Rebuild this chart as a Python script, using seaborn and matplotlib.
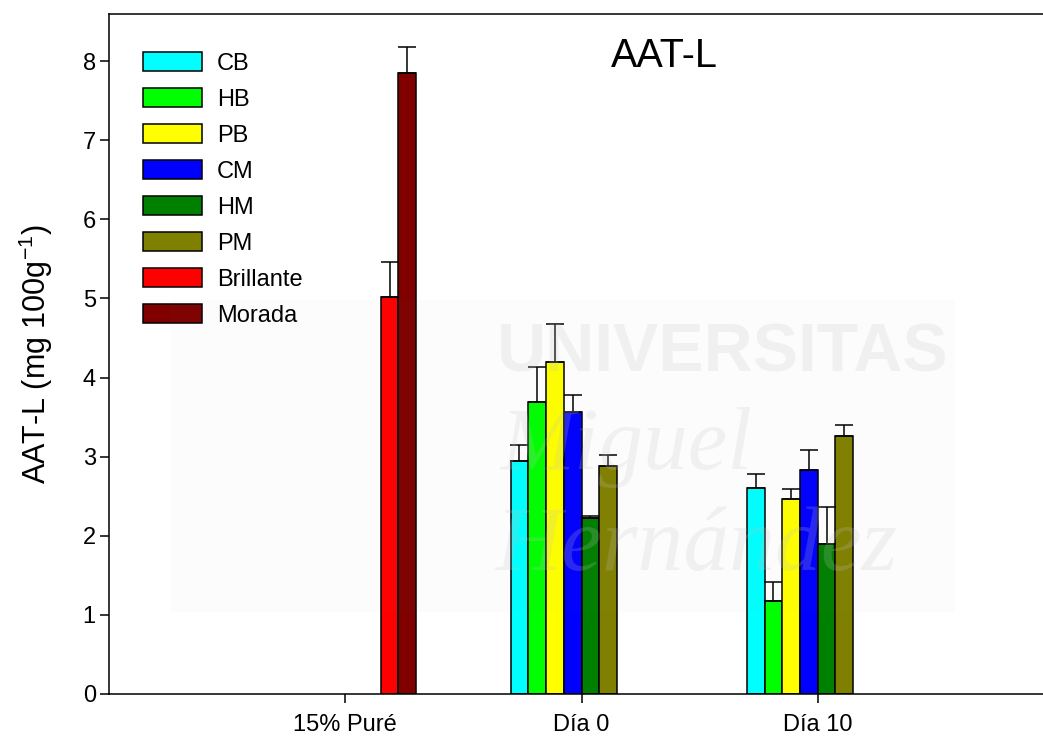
import numpy as np
import pandas as pd
import matplotlib
matplotlib.use("Agg")
import matplotlib.pyplot as plt
from matplotlib.patches import Patch, Rectangle
import seaborn as sns

# Groups on the x axis and the series drawn in each
groups = ["15% Puré", "Día 0", "Día 10"]
series = ["CB", "HB", "PB", "CM", "HM", "PM", "Brillante", "Morada"]
colors = ["#00FFFF", "#00FF00", "#FFFF00", "#0000FF", "#008000", "#808000", "#FF0000", "#800000"]

# Mean values (mg 100 g-1) and upper error per series
pure_series = ["Brillante", "Morada"]
pure_mean = [5.02, 7.85]
pure_err = [0.44, 0.33]

dia_series = ["CB", "HB", "PB", "CM", "HM", "PM"]
dia0_mean = [2.95, 3.69, 4.20, 3.57, 2.23, 2.88]
dia0_err = [0.20, 0.44, 0.47, 0.21, 0.02, 0.14]
dia10_mean = [2.60, 1.18, 2.47, 2.83, 1.89, 3.26]
dia10_err = [0.18, 0.24, 0.12, 0.26, 0.47, 0.14]

rows = []
for s, m, e in zip(pure_series, pure_mean, pure_err):
    rows.append((groups[0], s, m, e))
for s, m, e in zip(dia_series, dia0_mean, dia0_err):
    rows.append((groups[1], s, m, e))
for s, m, e in zip(dia_series, dia10_mean, dia10_err):
    rows.append((groups[2], s, m, e))
df = pd.DataFrame(rows, columns=["grupo", "serie", "valor", "error"])

sns.set_style("white")
plt.rcParams["font.family"] = ["Liberation Sans", "DejaVu Sans"]
plt.rcParams.update({"text.color": "black", "axes.labelcolor": "black",
                     "xtick.color": "black", "ytick.color": "black"})

fig = plt.figure(figsize=(10.43, 7.42), dpi=100)
W, H = 1043, 742
left_px, right_px, top_px, bottom_px = 109, 1054, 14, 694
ax = fig.add_axes([left_px / W, (H - bottom_px) / H,
                   (right_px - left_px) / W, (bottom_px - top_px) / H])

sns.barplot(data=df, x="grupo", y="valor", hue="serie",
            order=groups, hue_order=series, palette=colors,
            width=0.6, dodge=True, gap=0, errorbar=None,
            edgecolor="black", linewidth=1.1, saturation=1,
            legend=False, ax=ax)

# Upper error bars placed on each drawn bar
vals = df["valor"].to_numpy()
errs = df["error"].to_numpy()
xs, ys, es = [], [], []
for p in ax.patches:
    h = p.get_height()
    if not np.isfinite(h) or h <= 0:
        continue
    i = int(np.argmin(np.abs(vals - h)))
    xs.append(p.get_x() + p.get_width() / 2)
    ys.append(h)
    es.append(errs[i])
es = np.array(es)
ax.errorbar(xs, ys, yerr=[np.zeros_like(es), es], fmt="none",
            ecolor="black", elinewidth=1.1, capsize=6.3, capthick=1.1, zorder=1)

ax.set_xlim(-1, 3)
ax.set_ylim(0, (bottom_px - top_px) / 79.125)
ax.set_yticks(range(0, 9))
ax.set_xlabel("")
ax.set_ylabel(r"AAT-L (mg 100g$^{\mathregular{-1}}$)", fontsize=22, labelpad=20)
ax.tick_params(axis="both", which="major", direction="out", length=6.5,
               width=1.1, color="black", labelsize=17, pad=3, left=True, bottom=True)
ax.tick_params(axis="x", labelsize=17, pad=8)

for side in ["left", "bottom", "top", "right"]:
    ax.spines[side].set_visible(True)
    ax.spines[side].set_color("black")
    ax.spines[side].set_linewidth(1.1)

ax.text(0.588, 0.938, "AAT-L", transform=ax.transAxes, fontsize=28.5,
        ha="center", va="center")

handles = [Patch(facecolor=c, edgecolor="black", linewidth=1.1, label=s)
           for s, c in zip(series, colors)]
ax.legend(handles=handles, loc="upper left", frameon=False, fontsize=17,
          handlelength=2.5, handleheight=0.85, handletextpad=0.62,
          labelspacing=0.57, borderaxespad=0.0, borderpad=0.0,
          bbox_to_anchor=((143 - left_px) / (right_px - left_px),
                          (bottom_px - 52) / (bottom_px - top_px)))

# Faint university watermark laid over the plot
def fx(px):
    return px / W

def fy(py):
    return (H - py) / H

fig.patches.append(Rectangle((fx(170), fy(612)), fx(955) - fx(170), fy(300) - fy(612),
                             transform=fig.transFigure, facecolor="#808080",
                             alpha=0.025, edgecolor="none", zorder=10))
wm = dict(color="#c4c4c4", alpha=0.2, zorder=11, ha="center", va="center")
fig.text(fx(723), fy(353), "UNIVERSITAS", fontsize=49, fontweight="bold",
         family=["Liberation Sans"], **wm)
fig.text(fx(626), fy(447), "Miguel", fontsize=64, style="italic",
         family=["Liberation Serif"], **wm)
fig.text(fx(697), fy(548), "Hernández", fontsize=66, style="italic",
         family=["Liberation Serif"], **wm)

fig.savefig("out.png", dpi=100)
